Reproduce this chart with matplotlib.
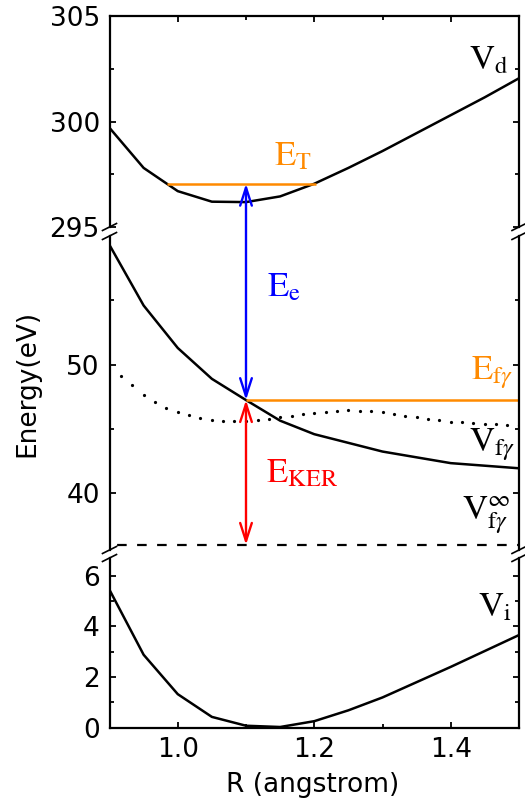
import matplotlib.pyplot as plt
from matplotlib.lines import Line2D
from matplotlib.patches import ArrowStyle, ConnectionPatch
from matplotlib.ticker import MultipleLocator

plt.rcParams['font.family'] = ['DejaVu Sans']
plt.rcParams['mathtext.fontset'] = 'stix'

# potential curves (R in angstrom, energies in eV)
R_d = [0.90, 0.95, 1.00, 1.05, 1.10, 1.15, 1.20, 1.25, 1.30, 1.35, 1.40, 1.45, 1.50]
V_d = [299.7, 297.8, 296.7, 296.2, 296.18, 296.45, 297.05, 297.8, 298.6, 299.45, 300.3, 301.15, 302.05]

R_f = [0.90, 0.95, 1.00, 1.05, 1.10, 1.15, 1.20, 1.30, 1.40, 1.50]
V_f = [59.3, 54.6, 51.3, 48.9, 47.25, 45.65, 44.6, 43.25, 42.35, 41.95]

R_dots = [0.917, 0.933, 0.950, 0.967, 0.983, 1.000, 1.017, 1.033, 1.050, 1.067, 1.083, 1.100,
          1.117, 1.133, 1.150, 1.167, 1.183, 1.200, 1.217, 1.233, 1.250, 1.267, 1.283, 1.300,
          1.317, 1.333, 1.350, 1.367, 1.383, 1.400, 1.417, 1.433, 1.450, 1.467, 1.483, 1.500]
V_dots = [49.15, 48.42, 47.67, 47.07, 46.63, 46.30, 46.09, 45.86, 45.70, 45.65, 45.65, 45.65,
          45.70, 45.75, 45.91, 46.01, 46.17, 46.27, 46.35, 46.43, 46.48, 46.43, 46.37, 46.30,
          46.17, 46.04, 45.91, 45.75, 45.70, 45.57, 45.55, 45.47, 45.42, 45.36, 45.34, 45.34]

R_i = [0.90, 0.95, 1.00, 1.05, 1.10, 1.15, 1.20, 1.25, 1.30, 1.40, 1.50]
V_i = [5.45, 2.88, 1.32, 0.42, 0.07, 0.02, 0.25, 0.68, 1.19, 2.40, 3.66]

# energy levels
R_exc = 1.1
E_T = 297.05
E_T_span = [0.984, 1.202]
E_fg = 47.25
V_inf = 36.0

orange = '#ff8a00'
W, H = 525, 805
LEFT, RIGHT = 109.5, 519.0


def px_rect(top, bottom):
    return [LEFT / W, 1 - bottom / H, (RIGHT - LEFT) / W, (bottom - top) / H]


fig = plt.figure(figsize=(W / 100, H / 100), dpi=100)
ax_top = fig.add_axes(px_rect(16, 227))
ax_mid = fig.add_axes(px_rect(236, 550))
ax_bot = fig.add_axes(px_rect(558, 727.5))

for ax in (ax_top, ax_mid, ax_bot):
    ax.set_xlim(0.9, 1.5)
    ax.xaxis.set_major_locator(MultipleLocator(0.2))
    ax.xaxis.set_minor_locator(MultipleLocator(0.1))
    for s in ax.spines.values():
        s.set_linewidth(1.6)
    ax.tick_params(which='both', direction='in', right=True, width=1.3,
                   labelsize=19, pad=7)
    ax.tick_params(which='major', length=4.5)
    ax.tick_params(which='minor', length=2.8)
    ax.patch.set_alpha(0)

ax_top.set_ylim(295, 305)
ax_top.set_yticks([295, 300, 305])
ax_top.yaxis.set_minor_locator(MultipleLocator(2.5))
ax_top.spines['bottom'].set_visible(False)
ax_top.tick_params(which='both', top=True, bottom=False, labelbottom=False)

ax_mid.set_ylim(35.6, 60.0)
ax_mid.set_yticks([40, 50])
ax_mid.set_yticks([45, 55], minor=True)
ax_mid.spines['top'].set_visible(False)
ax_mid.spines['bottom'].set_visible(False)
ax_mid.tick_params(which='both', top=False, bottom=False, labelbottom=False)

ax_bot.set_ylim(0, 6.71)
ax_bot.set_yticks([0, 2, 4, 6])
ax_bot.yaxis.set_minor_locator(MultipleLocator(1))
ax_bot.spines['top'].set_visible(False)
ax_bot.tick_params(which='both', top=False, bottom=True)

# curves
ax_top.plot(R_d, V_d, color='k', lw=1.8)
ax_mid.plot(R_f, V_f, color='k', lw=1.8)
ax_mid.plot(R_dots, V_dots, ls='none', marker='o', ms=2.3, mew=0, color='k')
ax_bot.plot(R_i, V_i, color='k', lw=1.8)

# levels
ax_top.hlines(E_T, E_T_span[0], E_T_span[1], color=orange, lw=1.8)
ax_mid.hlines(E_fg, R_exc, 1.5, color=orange, lw=1.8)
ax_mid.hlines(V_inf, 0.9, 1.5, color='k', lw=1.6, linestyles=[(5.8, (4.3, 4.7))])

# arrows
head = ArrowStyle('<->', head_length=1.3, head_width=0.42)
con = ConnectionPatch(xyA=(R_exc, E_fg), coordsA=ax_mid.transData,
                      xyB=(R_exc, E_T), coordsB=ax_top.transData,
                      arrowstyle=head, mutation_scale=10, color='blue', lw=1.7,
                      shrinkA=0, shrinkB=0, zorder=5)
fig.add_artist(con)
ax_mid.annotate('', xy=(R_exc, V_inf), xytext=(R_exc, E_fg),
                arrowprops=dict(arrowstyle=head, mutation_scale=10, color='red',
                                lw=1.7, shrinkA=0, shrinkB=0), zorder=5)

# labels on the curves
lab = dict(fontsize=25, va='baseline')
ax_top.text(1.484, 302.5, r'$\mathrm{V_d}$', ha='right', **lab)
ax_top.text(1.141, 297.93, r'$\mathrm{E_T}$', color=orange, ha='left', **lab)
ax_mid.text(1.131, 55.36, r'$\mathrm{E_e}$', color='blue', ha='left', **lab)
ax_mid.text(1.492, 48.9, r'$\mathrm{E}_{\mathrm{f}\gamma}$', color=orange, ha='right', **lab)
ax_mid.text(1.495, 43.3, r'$\mathrm{V}_{\mathrm{f}\gamma}$', ha='right', **lab)
ax_mid.text(1.488, 38.0, r'$\mathrm{V}_{\mathrm{f}\gamma}^{\infty}$', ha='right', **lab)
ax_mid.text(1.129, 40.86, r'$\mathrm{E_{KER}}$', color='red', ha='left', **lab)
ax_bot.text(1.49, 4.41, r'$\mathrm{V_i}$', ha='right', **lab)

# axis break marks
for x in (LEFT, RIGHT):
    for y in (227, 236, 550, 558):
        fig.add_artist(Line2D([(x - 7) / W, (x + 7) / W],
                              [1 - (y + 3.5) / H, 1 - (y - 3.5) / H],
                              transform=fig.transFigure, color='k', lw=1.2))

fig.text(27 / W, 1 - 383 / H, 'Energy(eV)', rotation=90, ha='center', va='center', fontsize=19)
fig.text(313 / W, 1 - 785 / H, 'R (angstrom)', ha='center', va='center', fontsize=19)

fig.savefig('out.png', dpi=100)
